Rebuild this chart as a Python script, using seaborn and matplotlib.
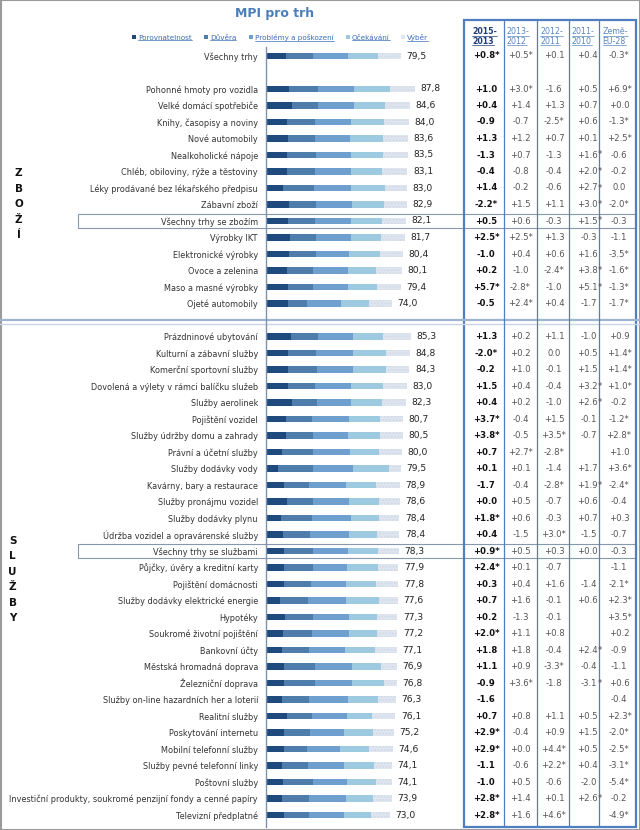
import matplotlib
matplotlib.use("Agg")
import matplotlib.pyplot as plt
import matplotlib.transforms as mtransforms
from matplotlib.patches import Rectangle
import pandas as pd
import seaborn as sns

# ---- data ----
chart_title = "MPI pro trh"
components = ["Porovnatelnost", "Důvěra", "Problémy a poškození", "Očekávání", "Výběr"]
column_heads = [("2015-", "2013"), ("2013-", "2012"), ("2012-", "2011"),
                ("2011-", "2010"), ("Země-", "EU-28")]

overall_label = "Všechny trhy"
goods_labels = [
    "Pohonné hmoty pro vozidla", "Velké domácí spotřebiče", "Knihy, časopisy a noviny",
    "Nové automobily", "Nealkoholické nápoje", "Chléb, obiloviny, rýže a těstoviny",
    "Léky prodávané bez lékařského předpisu", "Zábavní zboží", "Všechny trhy se zbožím",
    "Výrobky IKT", "Elektronické výrobky", "Ovoce a zelenina", "Maso a masné výrobky",
    "Ojeté automobily",
]
services_labels = [
    "Prázdninové ubytování", "Kulturní a zábavní služby", "Komerční sportovní služby",
    "Dovolená a výlety v rámci balíčku služeb", "Služby aerolinek", "Pojištění vozidel",
    "Služby údržby domu a zahrady", "Právní a účetní služby", "Služby dodávky vody",
    "Kavárny, bary a restaurace", "Služby pronájmu vozidel", "Služby dodávky plynu",
    "Údržba vozidel a opravárenské služby", "Všechny trhy se službami",
    "Půjčky, úvěry a kreditní karty", "Pojištění domácnosti",
    "Služby dodávky elektrické energie", "Hypotéky", "Soukromé životní pojištění",
    "Bankovní účty", "Městská hromadná doprava", "Železniční doprava",
    "Služby on-line hazardních her a loterií", "Realitní služby", "Poskytování internetu",
    "Mobilní telefonní služby", "Služby pevné telefonní linky", "Poštovní služby",
    "Investiční produkty, soukromé penzijní fondy a cenné papíry", "Televizní předplatné",
]
highlight_rows = ["Všechny trhy se zbožím", "Všechny trhy se službami"]

mpi = [79.5,
       87.8, 84.6, 84.0, 83.6, 83.5, 83.1, 83.0, 82.9, 82.1, 81.7, 80.4, 80.1, 79.4, 74.0,
       85.3, 84.8, 84.3, 83.0, 82.3, 80.7, 80.5, 80.0, 79.5, 78.9, 78.6, 78.4, 78.4, 78.3,
       77.9, 77.8, 77.6, 77.3, 77.2, 77.1, 76.9, 76.8, 76.3, 76.1, 75.2, 74.6, 74.1, 74.1,
       73.9, 73.0]

seg_comparability = [11.6,
    13.6, 15.1, 12.1, 12.7, 12.6, 12.6, 9.9, 13.4, 12.8, 14.2, 13.6, 12.2, 12.8, 12.8,
    14.6, 12.7, 13.2, 12.8, 15.2, 11.8, 11.9, 9.5, 7.3, 10.3, 12.6, 8.6, 9.9, 10.8, 10.8,
    10.8, 8.3, 11.2, 10.2, 9.6, 10.7, 10.3, 9.3, 12.2, 10.6, 10.8, 9.2, 9.8, 9.3, 10.6]
seg_trust = [15.9,
    16.7, 15.7, 16.6, 16.0, 16.9, 16.3, 18.2, 16.1, 16.1, 15.4, 15.6, 15.7, 14.8, 11.6,
    15.8, 16.8, 16.7, 16.2, 14.8, 15.5, 15.6, 18.0, 20.2, 15.2, 14.8, 18.3, 15.8, 16.6, 16.6,
    15.6, 16.4, 16.4, 16.7, 15.7, 18.4, 18.8, 16.2, 15.1, 15.4, 13.5, 15.3, 17.7, 15.8, 14.7]
seg_problems = [20.9,
    21.6, 20.7, 21.5, 20.9, 20.4, 21.1, 22.1, 21.0, 21.1, 20.5, 19.6, 20.1, 20.5, 19.7,
    20.9, 21.9, 21.2, 21.1, 20.1, 21.3, 21.0, 21.8, 23.7, 21.3, 21.3, 23.0, 23.0, 20.9, 20.3,
    20.9, 22.6, 21.1, 21.7, 21.2, 21.2, 21.7, 22.7, 20.6, 20.1, 19.2, 21.4, 20.1, 21.7, 20.6]
seg_expectations = [17.6,
    20.8, 18.7, 19.0, 19.5, 18.9, 18.3, 19.8, 18.7, 18.3, 17.4, 18.2, 16.9, 17.4, 16.5,
    17.8, 19.2, 19.5, 18.8, 18.4, 18.7, 18.8, 17.4, 21.0, 17.8, 17.7, 16.3, 16.4, 17.6, 18.1,
    17.5, 19.0, 16.4, 16.7, 17.7, 17.4, 18.8, 17.7, 14.7, 16.9, 17.3, 17.7, 17.1, 16.2, 15.9]
seg_choice = [13.5,
    15.1, 14.4, 14.7, 14.6, 14.7, 14.8, 13.0, 13.7, 13.8, 14.2, 13.4, 15.2, 13.9, 13.4,
    16.2, 14.2, 13.7, 14.1, 13.8, 13.4, 13.2, 13.3, 7.3, 14.3, 12.2, 12.2, 13.3, 12.4, 12.1,
    13.0, 11.3, 12.2, 11.9, 12.9, 9.2, 7.2, 10.4, 13.5, 12.2, 13.8, 10.5, 9.4, 10.9, 11.2]

chg_2015_2013 = ["+0.8*",
    "+1.0", "+0.4", "-0.9", "+1.3", "-1.3", "-0.4", "+1.4", "-2.2*", "+0.5", "+2.5*",
    "-1.0", "+0.2", "+5.7*", "-0.5",
    "+1.3", "-2.0*", "-0.2", "+1.5", "+0.4", "+3.7*", "+3.8*", "+0.7", "+0.1", "-1.7",
    "+0.0", "+1.8*", "+0.4", "+0.9*", "+2.4*", "+0.3", "+0.7", "+0.2", "+2.0*", "+1.8",
    "+1.1", "-0.9", "-1.6", "+0.7", "+2.9*", "+2.9*", "-1.1", "-1.0", "+2.8*", "+2.8*"]
chg_2013_2012 = ["+0.5*",
    "+3.0*", "+1.4", "-0.7", "+1.2", "+0.7", "-0.8", "-0.2", "+1.5", "+0.6", "+2.5*",
    "+0.4", "-1.0", "-2.8*", "+2.4*",
    "+0.2", "+0.2", "+1.0", "+0.4", "+0.2", "-0.4", "-0.5", "+2.7*", "+0.1", "-0.4",
    "+0.5", "+0.6", "-1.5", "+0.5", "+0.1", "+0.4", "+1.6", "-1.3", "+1.1", "+1.8",
    "+0.9", "+3.6*", "", "+0.8", "-0.4", "+0.0", "-0.6", "+0.5", "+1.4", "+1.6"]
chg_2012_2011 = ["+0.1",
    "-1.6", "+1.3", "-2.5*", "+0.7", "-1.3", "-0.4", "-0.6", "+1.1", "-0.3", "+1.3",
    "+0.6", "-2.4*", "-1.0", "+0.4",
    "+1.1", "0.0", "-0.1", "-0.4", "-1.0", "+1.5", "+3.5*", "-2.8*", "-1.4", "-2.8*",
    "-0.7", "-0.3", "+3.0*", "+0.3", "-0.7", "+1.6", "-0.1", "-0.1", "+0.8", "-0.4",
    "-3.3*", "-1.8", "", "+1.1", "+0.9", "+4.4*", "+2.2*", "-0.6", "+0.1", "+4.6*"]
chg_2011_2010 = ["+0.4",
    "+0.5", "+0.7", "+0.6", "+0.1", "+1.6*", "+2.0*", "+2.7*", "+3.0*", "+1.5*", "-0.3",
    "+1.6", "+3.8*", "+5.1*", "-1.7",
    "-1.0", "+0.5", "+1.5", "+3.2*", "+2.6*", "-0.1", "-0.7", "", "+1.7", "+1.9*",
    "+0.6", "+0.7", "-1.5", "+0.0", "", "-1.4", "+0.6", "", "", "+2.4*",
    "-0.4", "-3.1*", "", "+0.5", "+1.5", "+0.5", "+0.4", "-2.0", "+2.6*", ""]
diff_eu28 = ["-0.3*",
    "+6.9*", "+0.0", "-1.3*", "+2.5*", "-0.6", "-0.2", "0.0", "-2.0*", "-0.3", "-1.1",
    "-3.5*", "-1.6*", "-1.3*", "-1.7*",
    "+0.9", "+1.4*", "+1.4*", "+1.0*", "-0.2", "-1.2*", "+2.8*", "+1.0", "+3.6*", "-2.4*",
    "-0.4", "+0.3", "-0.7", "-0.3", "-1.1", "-2.1*", "+2.3*", "+3.5*", "+0.2", "-0.9",
    "-1.1", "+0.6", "-0.4", "+2.3*", "-2.0*", "-2.5*", "-3.1*", "-5.4*", "-0.2", "-4.9*"]

# ---- table frame ----
markets = [overall_label] + goods_labels + services_labels
n_goods = len(goods_labels)
row_pos = ([0] + list(range(2, 2 + n_goods))
           + list(range(3 + n_goods, 3 + n_goods + len(services_labels))))
seg_cols = ["comparability", "trust", "problems", "expectations", "choice"]
df = pd.DataFrame({
    "market": markets, "pos": row_pos, "mpi": mpi,
    "comparability": seg_comparability, "trust": seg_trust, "problems": seg_problems,
    "expectations": seg_expectations, "choice": seg_choice,
})
cum = df[seg_cols].cumsum(axis=1)

colors = ["#1f4a7e", "#4f7dab", "#6e9fcf", "#9ecae1", "#dfe6f0"]
blue = "#4f7fbf"

sns.set_style("white")
plt.rcParams["font.family"] = ["DejaVu Sans"]

fig = plt.figure(figsize=(6.4, 8.3), dpi=100)
overlay = fig.add_axes([0, 0, 1, 1])
overlay.set_xlim(0, 640)
overlay.set_ylim(830, 0)
overlay.axis("off")

# bar axes: left edge at x=266px, 1.70 px per index point, rows 16.5 px apart
bar_ax = fig.add_axes([266 / 640, 3 / 830, 194 / 640, 780 / 830])
bar_ax.patch.set_alpha(0)

for i in reversed(range(len(seg_cols))):
    sns.barplot(x=cum[seg_cols[i]], y=df["pos"], orient="h", native_scale=True,
                width=0.38, color=colors[i], saturation=1, errorbar=None,
                linewidth=0, ax=bar_ax)
    if i == len(seg_cols) - 1:
        for p in bar_ax.patches:
            p.set_hatch(".....")
            p.set_edgecolor("#d2dae8")

bar_ax.set_xlim(0, 194 / 1.70)
bar_ax.set_ylim((827 - 56) / 16.5, (47 - 56) / 16.5)
bar_ax.set_xticks([])
bar_ax.set_yticks(df["pos"])
bar_ax.set_yticklabels(df["market"], fontsize=5.9, color="#333333")
bar_ax.tick_params(axis="y", length=0, pad=5.8)
bar_ax.set_xlabel("")
bar_ax.set_ylabel("")
for side in ["top", "right", "bottom"]:
    bar_ax.spines[side].set_visible(False)
bar_ax.spines["left"].set_color("#7d92b3")
bar_ax.spines["left"].set_linewidth(1)

for _, r in df.iterrows():
    bar_ax.text(r["mpi"] + 3.3, r["pos"], f"{r['mpi']:.1f}".replace(".", ","),
                va="center", ha="left", fontsize=6.6, color="#222222")

# x in overlay pixels, y in bar rows
trans = mtransforms.blended_transform_factory(overlay.transData, bar_ax.transData)

# highlighted summary rows
for name in highlight_rows:
    p = df.loc[df["market"] == name, "pos"].iloc[0]
    overlay.add_patch(Rectangle((78, p - 0.4), 558, 0.8, transform=trans,
                                fill=False, edgecolor="#8797b0", lw=0.8))

# separator between goods and services
sep = 2 + n_goods
overlay.plot([0, 640], [sep + 0.03, sep + 0.03], transform=trans, color="#9fb4d0", lw=1.6)
overlay.plot([0, 640], [sep + 0.22, sep + 0.22], transform=trans, color="#c9d5e6", lw=1.0)

# table values
table_cols = [chg_2015_2013, chg_2013_2012, chg_2012_2011, chg_2011_2010, diff_eu28]
col_x = [486, 520.5, 554, 597.5, 619]
for c, (vals, x) in enumerate(zip(table_cols, col_x)):
    for v, p in zip(vals, df["pos"]):
        if not v:
            continue
        kw = dict(va="center", fontsize=6.1,
                  color="#111111" if c == 0 else "#555555",
                  fontweight="bold" if c == 0 else "normal")
        if c == 3:
            overlay.text(x, p, v.rstrip("*"), ha="right", transform=trans, **kw)
            if v.endswith("*"):
                overlay.text(x, p, "*", ha="left", transform=trans, **kw)
        else:
            overlay.text(x, p, v, ha="center", transform=trans, **kw)

# table frame
overlay.add_patch(Rectangle((464, 20), 172, 807, fill=False, edgecolor=blue, lw=1.6))
for x in [504, 537, 569, 599]:
    overlay.plot([x, x], [20, 827], color=blue, lw=0.9)

underlined = []
head_x = [472, 506.5, 540, 571.5, 602.5]
for c, ((l1, l2), x) in enumerate(zip(column_heads, head_x)):
    col = "#1f3d7a" if c == 0 else "#5a86c4"
    w = "bold" if c == 0 else "normal"
    for txt, y in [(l1, 31.5), (l2, 41)]:
        t = overlay.text(x, y, txt, ha="left", va="center", fontsize=5.7,
                         fontweight=w, color=col)
        underlined.append((t, col))

# title and legend
overlay.text(275, 14, chart_title, ha="center", va="center", fontsize=9,
             fontweight="bold", color="#4a7ebb")
leg_x = [132, 204, 249, 346, 401]
for name, x, col in zip(components, leg_x, colors):
    overlay.add_patch(Rectangle((x, 35.5), 3.5, 3.5, facecolor=col, edgecolor="none"))
    t = overlay.text(x + 6, 37.5, name, ha="left", va="center", fontsize=5.2,
                     color="#3c6db4")
    underlined.append((t, "#3c6db4"))

# section letters
for i, ch in enumerate("ZBOŽÍ"):
    overlay.text(18.5, 173 + i * 15.5, ch, ha="center", va="center", fontsize=7.5,
                 fontweight="bold", color="#111111")
for i, ch in enumerate("SLUŽBY"):
    overlay.text(12.5, 541 + i * 15.4, ch, ha="center", va="center", fontsize=7.5,
                 fontweight="bold", color="#111111")

# outer frame
overlay.add_patch(Rectangle((0.5, 0.5), 639, 829, fill=False, edgecolor="#9a9a9a", lw=1.5))

fig.canvas.draw()
renderer = fig.canvas.get_renderer()
inv = overlay.transData.inverted()
for t, col in underlined:
    bb = t.get_window_extent(renderer)
    (x0, y0), (x1, _) = inv.transform([(bb.x0, bb.y0), (bb.x1, bb.y1)])
    overlay.plot([x0, x1], [y0 - 0.3, y0 - 0.3], color=col, lw=0.5)

fig.savefig("out.png", dpi=100)
